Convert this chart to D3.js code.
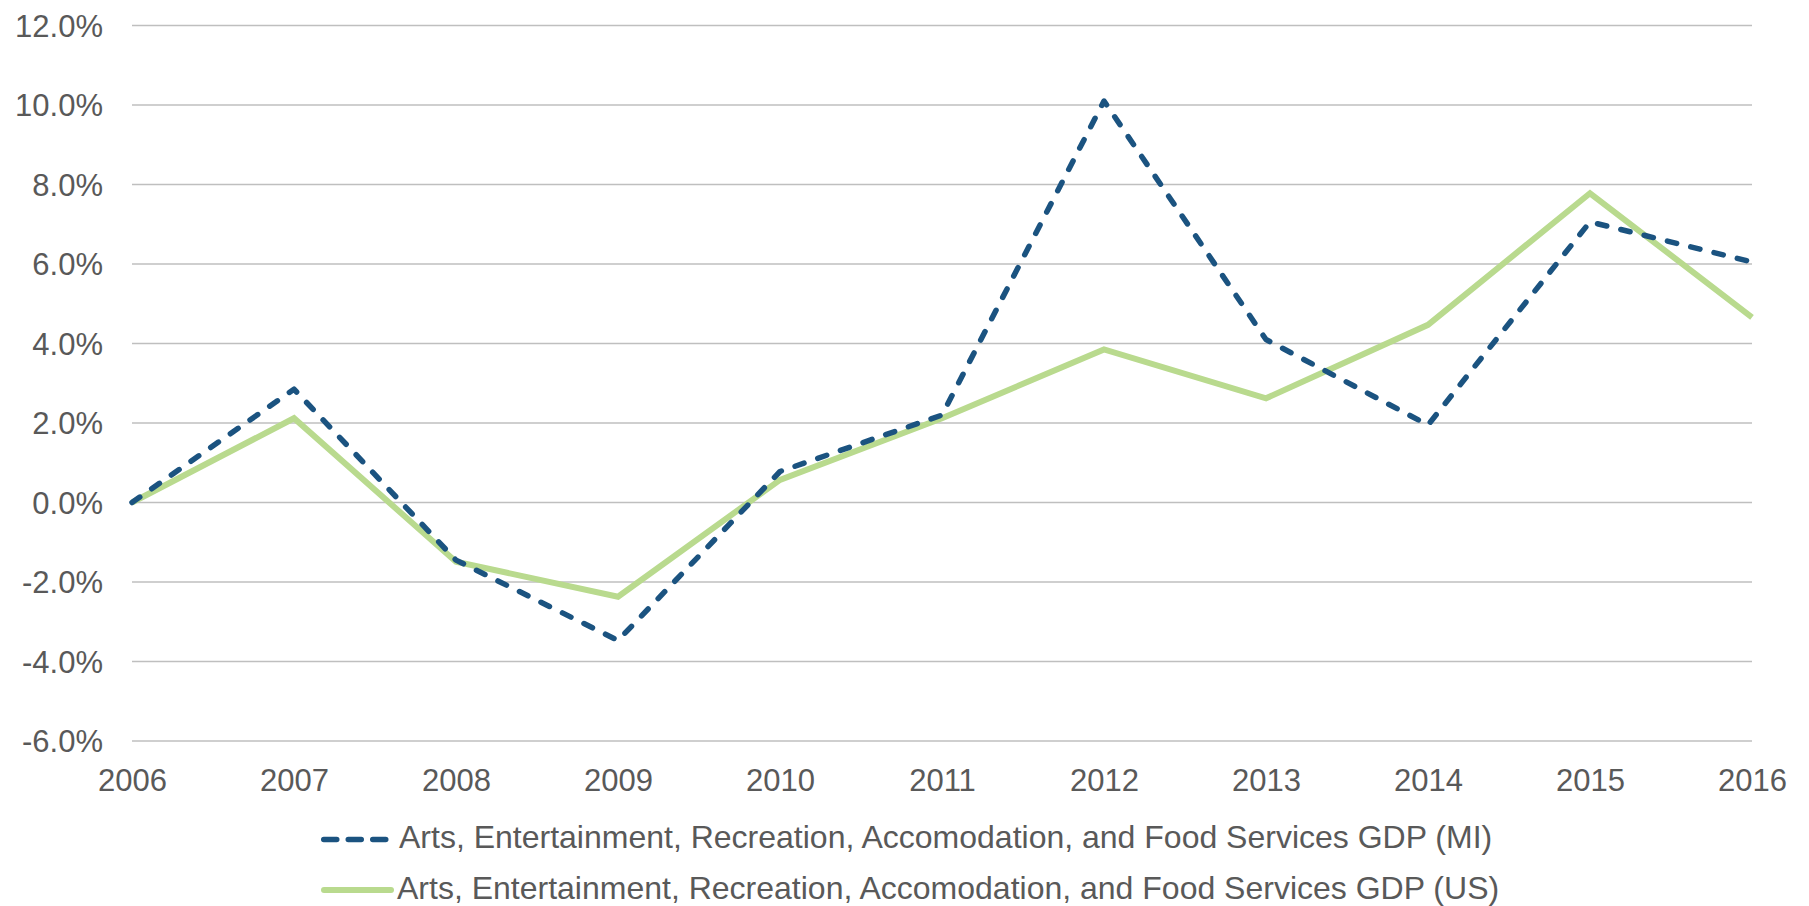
<!DOCTYPE html>
<html>
<head>
<meta charset="utf-8">
<script src="https://cdn.jsdelivr.net/npm/d3@7"></script>
<style>
  html, body { margin: 0; padding: 0; background: #fff; }
  svg { display: block; }
  text { font-family: "Liberation Sans", Arial, sans-serif; fill: #595959; }
</style>
</head>
<body>
<svg id="chart" width="1809" height="906"></svg>
<script>
// Annual GDP growth, arts/entertainment/recreation/accommodation/food services
const years = [2006, 2007, 2008, 2009, 2010, 2011, 2012, 2013, 2014, 2015, 2016];
const miValues = [0.0, 2.85, -1.45, -3.47, 0.78, 2.2, 10.1, 4.1, 1.95, 7.06, 6.05];
const usValues = [0.0, 2.12, -1.49, -2.37, 0.57, 2.12, 3.85, 2.62, 4.47, 7.78, 4.66];
const yTicks = [-6, -4, -2, 0, 2, 4, 6, 8, 10, 12];
const seriesNames = [
  "Arts, Entertainment, Recreation, Accomodation, and Food Services GDP (MI)",
  "Arts, Entertainment, Recreation, Accomodation, and Food Services GDP (US)"
];
const colors = ["#1b5380", "#b9da8e"];

const svg = d3.select("#chart");
const fontSize = 31;
const legendFontSize = 32;

const x = d3.scaleLinear().domain([2006, 2016]).range([132, 1752]);
const y = d3.scaleLinear().domain([-6, 12]).range([741, 25.5]);

// Horizontal gridlines
svg.append("g")
  .selectAll("line")
  .data(yTicks)
  .join("line")
  .attr("x1", x(2006)).attr("x2", x(2016))
  .attr("y1", d => y(d)).attr("y2", d => y(d))
  .attr("stroke", "#bfbfbf")
  .attr("stroke-width", 1.5);

// Y axis labels
const yAxis = d3.axisLeft(y).tickValues(yTicks).tickSize(0).tickPadding(0)
  .tickFormat(d => d.toFixed(1) + "%");
svg.append("g")
  .attr("transform", "translate(103,0)")
  .call(yAxis)
  .call(g => g.select(".domain").remove())
  .call(g => g.selectAll("text")
    .attr("font-size", fontSize)
    .attr("font-family", "'Liberation Sans', Arial, sans-serif")
    .attr("fill", "#595959")
    .attr("dy", "0.35em"));

// X axis labels
const xAxis = d3.axisBottom(x).tickValues(years).tickSize(0).tickPadding(0)
  .tickFormat(d3.format("d"));
svg.append("g")
  .attr("transform", "translate(0,769)")
  .call(xAxis)
  .call(g => g.select(".domain").remove())
  .call(g => g.selectAll("text")
    .attr("font-size", fontSize)
    .attr("font-family", "'Liberation Sans', Arial, sans-serif")
    .attr("fill", "#595959")
    .attr("dy", "0.71em"));

const line = d3.line()
  .x((d, i) => x(years[i]))
  .y(d => y(d));

// US series (solid green)
svg.append("path")
  .datum(usValues)
  .attr("d", line)
  .attr("fill", "none")
  .attr("stroke", colors[1])
  .attr("stroke-width", 6)
  .attr("stroke-linejoin", "miter");

// MI series (dashed blue)
svg.append("path")
  .datum(miValues)
  .attr("d", line)
  .attr("fill", "none")
  .attr("stroke", colors[0])
  .attr("stroke-width", 5.5)
  .attr("stroke-linecap", "round")
  .attr("stroke-linejoin", "round")
  .attr("stroke-dasharray", "9.5 14.5");

// Legend
const legendRows = [
  { name: seriesNames[0], color: colors[0], dashed: true, cy: 839.5, baseline: 847.5, tx: 399 },
  { name: seriesNames[1], color: colors[1], dashed: false, cy: 890, baseline: 898.5, tx: 397 }
];
const legend = svg.append("g");
legendRows.forEach(r => {
  const g = legend.append("g");
  if (r.dashed) {
    g.append("line")
      .attr("x1", 323.75).attr("x2", 388)
      .attr("y1", r.cy).attr("y2", r.cy)
      .attr("stroke", r.color)
      .attr("stroke-width", 5.5)
      .attr("stroke-linecap", "round")
      .attr("stroke-dasharray", "13 11.5");
  } else {
    g.append("line")
      .attr("x1", 324).attr("x2", 391)
      .attr("y1", r.cy).attr("y2", r.cy)
      .attr("stroke", r.color)
      .attr("stroke-width", 6)
      .attr("stroke-linecap", "round");
  }
  g.append("text")
    .attr("x", r.tx)
    .attr("y", r.baseline)
    .attr("font-size", legendFontSize)
    .text(r.name);
});
</script>
</body>
</html>
